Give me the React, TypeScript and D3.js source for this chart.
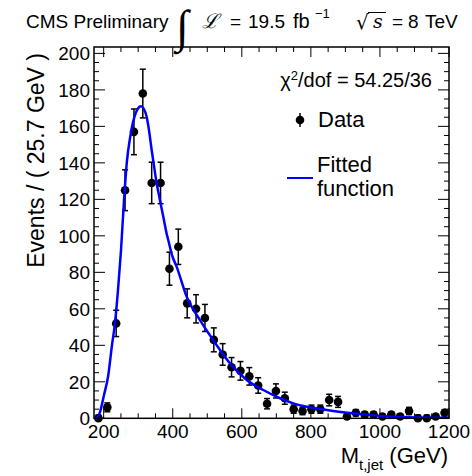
import React from 'react'
import * as d3 from 'd3'

// bin centres (GeV), 40 bins of 25.7 GeV
const binCenters = [
  184.85, 210.55, 236.25, 261.95, 287.65, 313.35, 339.05, 364.75, 390.45, 416.15,
  441.85, 467.55, 493.25, 518.95, 544.65, 570.35, 596.05, 621.75, 647.45, 673.15,
  698.85, 724.55, 750.25, 775.95, 801.65, 827.35, 853.05, 878.75, 904.45, 930.15,
  955.85, 981.55, 1007.25, 1032.95, 1058.65, 1084.35, 1110.05, 1135.75, 1161.45, 1187.15
]
const counts = [
  0, 6, 52, 125, 157, 178, 129, 129, 82, 94,
  63, 60, 55, 43, 35, 28, 26, 23, 18, 8,
  15, 11, 5, 4, 5, 5, 10, 9, 1, 3,
  2, 2, 1, 2, 1, 4, 0, 0, 1, 3
]

// fitted curve
const fitX = [
  172, 179.8, 189.4, 201.0, 212.5, 224.1, 232.8, 241.5, 250.2, 258.9,
  267.6, 276.3, 284.9, 293.6, 302.3, 308.1, 315.4, 324.6, 331.3, 339.1,
  345.8, 353.6, 363.1, 372.7, 382.0, 387.2, 397.9, 411.5, 440.5, 479.0,
  517.5, 565.9, 614.3, 662.3, 710.7, 749.2, 845.9, 942.3, 1038.8, 1200
]
const fitY = [
  0, 0.2, 3.4, 12.8, 22.6, 40.1, 52.2, 70.2, 92.1, 119.5,
  141.4, 153.5, 162.2, 167.7, 170.5, 171.0, 169.9, 165.1, 157.8, 146.9,
  138.2, 128.7, 119.5, 110.4, 101.5, 97.6, 89.4, 83.0, 66.6, 53.8,
  42.8, 30.1, 21.0, 15.5, 11.0, 8.2, 4.6, 2.4, 0.9, 0.3
]

const xTicks = [200, 400, 600, 800, 1000, 1200]
const yTicks = [0, 20, 40, 60, 80, 100, 120, 140, 160, 180, 200]

const W = 472
const H = 476
const left = 94, right = 449, top = 47, bottom = 418.3
const FONT = 'Liberation Sans, Arial, Helvetica, sans-serif'

export default function App () {
  const x = d3.scaleLinear().domain([172, 1200]).range([left, right])
  const y = d3.scaleLinear().domain([0, 203.5]).range([bottom, top])

  const xMinor = d3.range(200, 1201, 50).filter(v => !xTicks.includes(v))
  const yMinor = d3.range(0, 201, 5).filter(v => !yTicks.includes(v))

  const fit = d3.line<number>()
    .x((d, i) => x(fitX[i]))
    .y(d => y(d))
    .curve(d3.curveMonotoneX)

  const majL = 10, minL = 5

  return (
    <svg width={W} height={H} style={{position: 'absolute', left: 0, top: 0, background: '#fff'}}
      fontFamily={FONT}>
      <rect x={0} y={0} width={W} height={H} fill='#fff' />

      {/* header */}
      <text x={26} y={28} fontSize={19}>CMS Preliminary</text>
      <text x={176} y={42} fontSize={46} fontFamily='Liberation Serif'>∫</text>
      <text x={202} y={28} fontSize={20} fontFamily='DejaVu Serif' fontStyle='italic'>ℒ</text>
      <text x={230} y={28} fontSize={19}>=</text>
      <text x={248} y={28} fontSize={19}>19.5</text>
      <text x={293} y={28} fontSize={20}>fb</text>
      <text x={315} y={18} fontSize={13}>−1</text>
      <text x={356} y={29} fontSize={20} fontFamily='DejaVu Sans'>√</text>
      <line x1={368} x2={386} y1={12.5} y2={12.5} stroke='#000' strokeWidth={1} />
      <text x={373} y={28} fontSize={19} fontFamily='DejaVu Serif' fontStyle='italic'>s</text>
      <text x={392} y={28} fontSize={19}>=</text>
      <text x={408} y={28} fontSize={19}>8</text>
      <text x={425} y={28} fontSize={19}>TeV</text>

      {/* ticks */}
      <g stroke='#000' strokeWidth={1}>
        {xTicks.map(t => (
          <g key={'xt' + t}>
            <line x1={x(t)} x2={x(t)} y1={bottom} y2={bottom - majL} />
            <line x1={x(t)} x2={x(t)} y1={top} y2={top + majL} />
          </g>
        ))}
        {xMinor.map(t => (
          <g key={'xm' + t}>
            <line x1={x(t)} x2={x(t)} y1={bottom} y2={bottom - minL} />
            <line x1={x(t)} x2={x(t)} y1={top} y2={top + minL} />
          </g>
        ))}
        {yTicks.map(t => (
          <g key={'yt' + t}>
            <line x1={left} x2={left + majL + 1} y1={y(t)} y2={y(t)} />
            <line x1={right} x2={right - majL - 1} y1={y(t)} y2={y(t)} />
          </g>
        ))}
        {yMinor.map(t => (
          <g key={'ym' + t}>
            <line x1={left} x2={left + minL} y1={y(t)} y2={y(t)} />
            <line x1={right} x2={right - minL} y1={y(t)} y2={y(t)} />
          </g>
        ))}
      </g>

      {/* tick labels */}
      {xTicks.map(t => (
        <text key={'xl' + t} x={x(t)} y={438} fontSize={19} textAnchor='middle'>{t}</text>
      ))}
      {yTicks.map(t => (
        <text key={'yl' + t} x={90} y={y(t) + 7} fontSize={19} textAnchor='end'>{t}</text>
      ))}

      {/* axis titles */}
      <text x={448} y={463} fontSize={22} textAnchor='end'>
        M<tspan fontSize={15} dy={7}>t,jet</tspan><tspan dy={-7}> (GeV)</tspan>
      </text>
      <text transform={`translate(44,${top + 6}) rotate(-90)`} fontSize={23} textAnchor='end'>
        Events / ( 25.7 GeV )
      </text>

      {/* data */}
      <g>
        {counts.map((n, i) => {
          const cx = x(binCenters[i])
          const up = n > 0 ? n + Math.sqrt(n) : 1.8
          const lo = n > 0 ? n - Math.sqrt(n) : 0
          return (
            <g key={'p' + i}>
              <line x1={cx} x2={cx} y1={y(lo)} y2={y(up)} stroke='#000' strokeWidth={1.5} />
              <line x1={cx - 3} x2={cx + 3} y1={y(up)} y2={y(up)} stroke='#000' strokeWidth={1.5} />
              {n > 0 && <line x1={cx - 3} x2={cx + 3} y1={y(lo)} y2={y(lo)} stroke='#000' strokeWidth={1.5} />}
              <circle cx={cx} cy={y(n)} r={4.3} fill='#000' />
            </g>
          )
        })}
      </g>

      <path d={fit(fitY) || ''} fill='none' stroke='#0000ff' strokeWidth={2.5} />

      {/* frame */}
      <rect x={left} y={top} width={right - left} height={bottom - top} fill='none' stroke='#000' strokeWidth={1.5} />

      {/* legend */}
      <text x={432} y={87} fontSize={20} textAnchor='end'>χ<tspan fontSize={13} dy={-7}>2</tspan><tspan dy={7}>/dof = 54.25/36</tspan></text>
      <line x1={300} x2={300} y1={113} y2={127} stroke='#000' strokeWidth={1.5} />
      <circle cx={300} cy={120} r={4.3} fill='#000' />
      <text x={318} y={127} fontSize={22}>Data</text>
      <line x1={287} x2={313} y1={178} y2={178} stroke='#0000ff' strokeWidth={2} />
      <text x={317} y={172} fontSize={22}>Fitted</text>
      <text x={317} y={196} fontSize={22}>function</text>
    </svg>
  )
}
